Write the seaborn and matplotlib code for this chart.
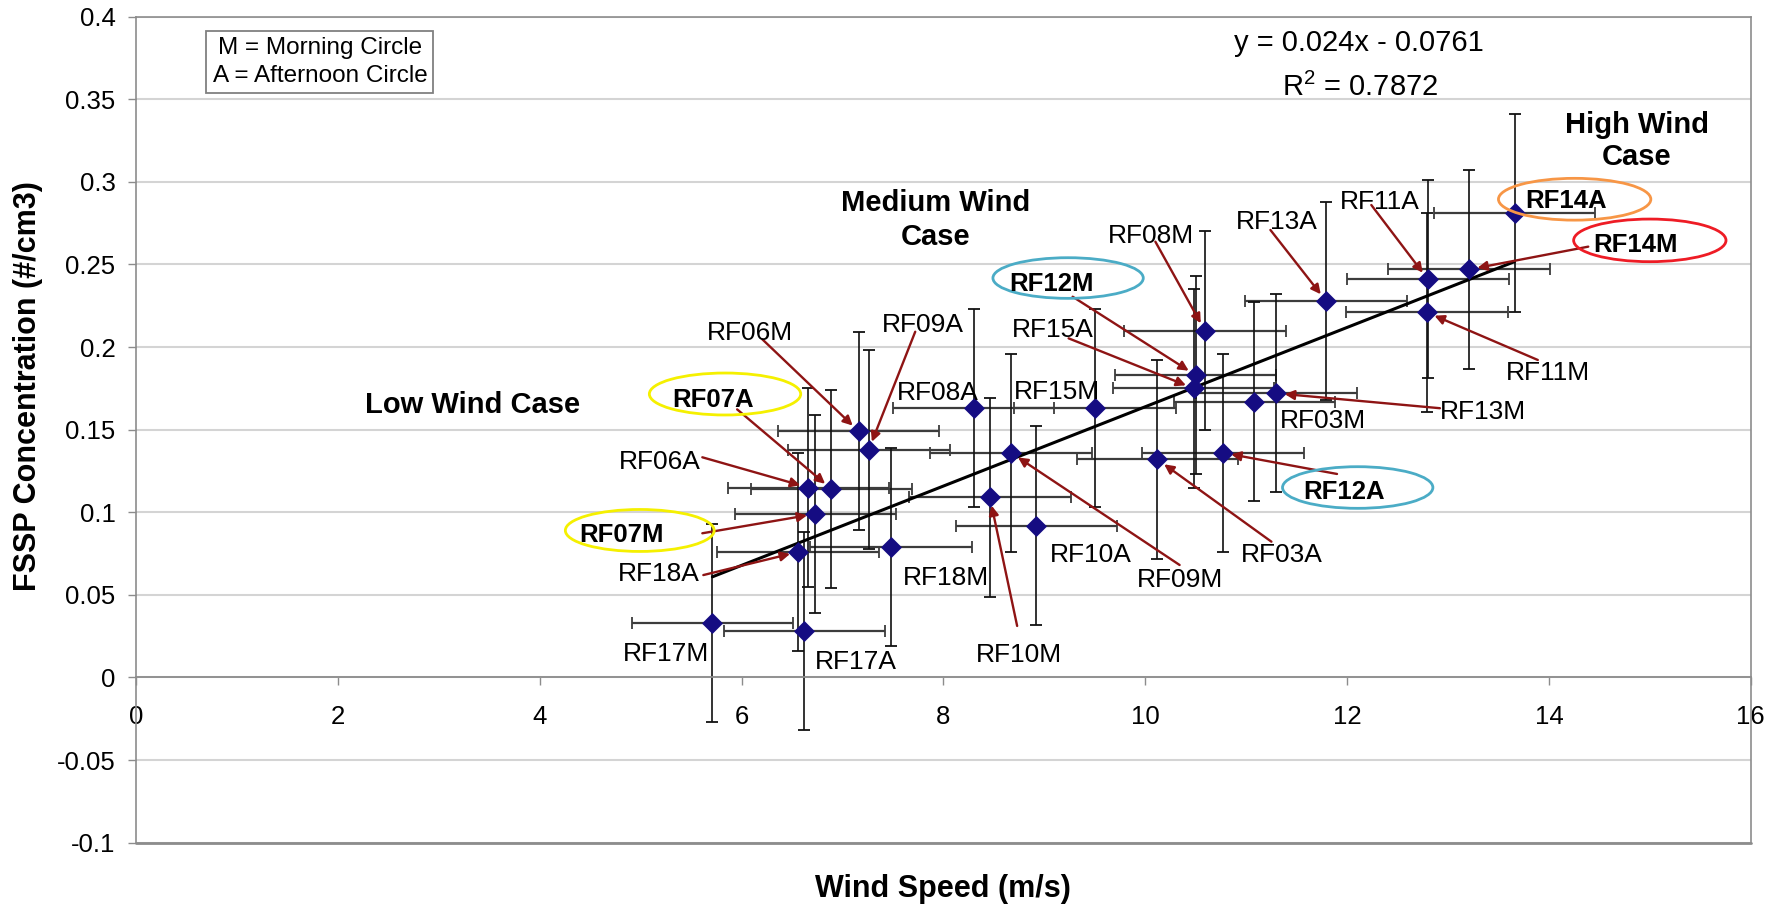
import numpy as np
import pandas as pd
import matplotlib
matplotlib.use("Agg")
import matplotlib.pyplot as plt
import seaborn as sns
from matplotlib.patches import Ellipse

# ---------------- data ----------------
flights = ["RF17M", "RF17A", "RF18A", "RF07M", "RF06A", "RF07A", "RF06M", "RF09A",
           "RF18M", "RF08A", "RF10M", "RF09M", "RF10A", "RF15M", "RF03A", "RF15A",
           "RF12M", "RF08M", "RF12A", "RF03M", "RF13M", "RF13A", "RF11M", "RF11A",
           "RF14M", "RF14A"]
wind_speed = [5.71, 6.62, 6.56, 6.73, 6.66, 6.89, 7.16, 7.26,
              7.48, 8.30, 8.46, 8.67, 8.92, 9.50, 10.12, 10.48,
              10.50, 10.59, 10.77, 11.08, 11.30, 11.79, 12.79, 12.80,
              13.21, 13.66]
fssp_conc = [0.033, 0.028, 0.076, 0.099, 0.115, 0.114, 0.149, 0.138,
             0.079, 0.163, 0.109, 0.136, 0.092, 0.163, 0.132, 0.175,
             0.183, 0.210, 0.136, 0.167, 0.172, 0.228, 0.221, 0.241,
             0.247, 0.281]
wind_err = 0.8
fssp_err = 0.06
fit_slope = 0.024
fit_intercept = -0.0761
r_squared = 0.7872

x_ticks = [0, 2, 4, 6, 8, 10, 12, 14, 16]
y_ticks = [-0.1, -0.05, 0, 0.05, 0.1, 0.15, 0.2, 0.25, 0.3, 0.35, 0.4]

# ---------------- annotation layout ----------------
# name: (text_x, text_y, arrow_start or None, bold, ellipse(cx, cy, w, h, color) or None)
YEL, CYA, ORA, RED = "#f5f000", "#4bacc6", "#f79646", "#ee1c25"
label_layout = {
    "RF06M": (6.08, 0.2099, (6.205, 0.2047), False, None),
    "RF09A": (7.80, 0.2150, (7.72, 0.2093), False, None),
    "RF15A": (9.08, 0.2119, (9.24, 0.2053), False, None),
    "RF12M": (9.07, 0.2396, (9.28, 0.2305), True, (9.235, 0.2418, 1.49, 0.0246, CYA)),
    "RF08A": (7.94, 0.1740, None, False, None),
    "RF15M": (9.12, 0.1746, None, False, None),
    "RF08M": (10.06, 0.2690, (10.10, 0.2638), False, None),
    "RF13A": (11.30, 0.2774, (11.24, 0.2709), False, None),
    "RF11A": (12.32, 0.2895, (12.24, 0.2860), False, None),
    "RF14A": (14.17, 0.2900, None, True, (14.255, 0.2895, 1.51, 0.0253, ORA)),
    "RF14M": (14.86, 0.2633, (14.39, 0.2608), True, (15.00, 0.2646, 1.51, 0.0258, RED)),
    "RF11M": (13.99, 0.1861, (13.89, 0.1922), False, None),
    "RF13M": (13.35, 0.1620, (12.92, 0.1630), False, None),
    "RF03M": (11.76, 0.1570, None, False, None),
    "RF12A": (11.97, 0.1135, (11.90, 0.1232), True, (12.105, 0.1150, 1.49, 0.0252, CYA)),
    "RF03A": (11.35, 0.0754, (11.25, 0.0822), False, None),
    "RF09M": (10.34, 0.0605, (10.34, 0.0681), False, None),
    "RF10A": (9.46, 0.0754, None, False, None),
    "RF10M": (8.75, 0.0151, (8.73, 0.0312), False, None),
    "RF18M": (8.025, 0.0620, None, False, None),
    "RF17A": (7.13, 0.0110, None, False, None),
    "RF17M": (5.25, 0.0156, None, False, None),
    "RF18A": (5.18, 0.0640, (5.62, 0.0620), False, None),
    "RF07M": (4.81, 0.0878, (5.61, 0.0873), True, (4.99, 0.0890, 1.475, 0.0254, YEL)),
    "RF06A": (5.19, 0.1317, (5.61, 0.1333), False, None),
    "RF07A": (5.72, 0.1695, (5.955, 0.1623), True, (5.835, 0.1716, 1.50, 0.0254, YEL)),
}

# ---------------- styling ----------------
sns.set_theme(style="white")
plt.rcParams["font.family"] = ["Liberation Sans", "DejaVu Sans"]
plt.rcParams["mathtext.fontset"] = "custom"
plt.rcParams["mathtext.rm"] = "Liberation Sans"
plt.rcParams["text.color"] = "black"
plt.rcParams["axes.labelcolor"] = "black"
plt.rcParams["xtick.color"] = "black"
plt.rcParams["ytick.color"] = "black"

fig = plt.figure(figsize=(17.81, 9.07), dpi=100)
ax = fig.add_axes([0.0765, 0.0709, 0.9065, 0.9107])

df = pd.DataFrame({"flight": flights, "wind": wind_speed, "fssp": fssp_conc})

ax.set_xlim(x_ticks[0], x_ticks[-1])
ax.set_ylim(y_ticks[0], y_ticks[-1])
ax.set_xticks(x_ticks)
ax.set_yticks(y_ticks)
ax.set_xticklabels([f"{v:g}" for v in x_ticks])
ax.set_yticklabels([f"{v:g}" for v in y_ticks])

ax.yaxis.grid(True, color="#d4d4d4", lw=1.5, zorder=0)
ax.xaxis.grid(False)
ax.set_axisbelow(True)

for side in ["left", "right", "top"]:
    ax.spines[side].set_color("#8c8c8c")
    ax.spines[side].set_linewidth(1.2)
ax.spines["bottom"].set_position(("data", 0))
ax.spines["bottom"].set_color("#8c8c8c")
ax.spines["bottom"].set_linewidth(1.3)
ax.axhline(y_ticks[0], color="#8c8c8c", lw=2.0, clip_on=False, zorder=1)

ax.tick_params(axis="x", direction="out", length=6, width=1, color="#8c8c8c",
               labelcolor="black", pad=14, labelsize=18.5, bottom=True)
ax.tick_params(axis="y", direction="out", length=6, width=1, color="#8c8c8c",
               labelcolor="black", pad=9, labelsize=18.5, left=True)

# error bars
ax.errorbar(df["wind"], df["fssp"], xerr=wind_err, fmt="none", ecolor="#3c3c3c",
            elinewidth=1.6, capsize=4, capthick=1.3, zorder=2)
ax.errorbar(df["wind"], df["fssp"], yerr=fssp_err, fmt="none", ecolor="#111111",
            elinewidth=1.2, capsize=4, capthick=1.3, zorder=2)

# trend line
xs = np.array([df["wind"].min(), df["wind"].max()])
ax.plot(xs, fit_slope * xs + fit_intercept, color="black", lw=2.2, zorder=4)

# points
sns.scatterplot(data=df, x="wind", y="fssp", marker="D", s=115, color="#150c82",
                edgecolor="#150c82", linewidth=0, ax=ax, zorder=5, legend=False)

# labels, arrows, ellipses
arrow_col = "#8e1414"
for name, wx, fy in zip(flights, wind_speed, fssp_conc):
    tx, ty, start, bold, ell = label_layout[name]
    ax.text(tx, ty, name, ha="center", va="center_baseline",
            fontsize=19 if not bold else 18.5,
            fontweight="bold" if bold else "normal", color="black", zorder=7)
    if start is not None:
        ax.annotate("", xy=(wx, fy), xytext=start,
                    arrowprops=dict(arrowstyle="-|>", color=arrow_col, lw=1.7,
                                    mutation_scale=14, shrinkA=0, shrinkB=6),
                    zorder=6)
    if ell is not None:
        cx, cy, w, h, col = ell
        ax.add_patch(Ellipse((cx, cy), w, h, fill=False, edgecolor=col, lw=2.0, zorder=6))

# group labels
ax.text(3.33, 0.1665, "Low Wind Case", ha="center", va="center_baseline",
        fontsize=21, fontweight="bold")
ax.text(7.92, 0.2768, "Medium Wind\nCase", ha="center", va="center",
        fontsize=21, fontweight="bold", linespacing=1.25)
ax.text(14.87, 0.3249, "High Wind\nCase", ha="center", va="center",
        fontsize=21, fontweight="bold", linespacing=1.2)

# equation
ax.text(12.12, 0.3859, f"y = {fit_slope:g}x - {abs(fit_intercept):g}", ha="center",
        va="center_baseline", fontsize=21)
ax.text(12.13, 0.3590, r"R$^\mathregular{2}$" + f" = {r_squared:g}", ha="center",
        va="center_baseline", fontsize=21)

# legend box
ax.text(1.82, 0.3726, "M = Morning Circle\nA = Afternoon Circle", ha="center",
        va="center", fontsize=17.5, linespacing=1.3,
        bbox=dict(boxstyle="square,pad=0.25", fc="white", ec="#808080", lw=1.3),
        zorder=8)

# axis labels
ax.set_xlabel("Wind Speed (m/s)", fontsize=22, fontweight="bold", color="black")
ax.xaxis.set_label_coords(0.4997, -0.0561)
ax.xaxis.label.set_va("center")
ax.set_ylabel("FSSP Concentration (#/cm3)", fontsize=22, fontweight="bold", color="black")
ax.yaxis.set_label_coords(-0.0673, 0.5523)
ax.yaxis.label.set_va("center")

fig.savefig("out.png", dpi=100)
